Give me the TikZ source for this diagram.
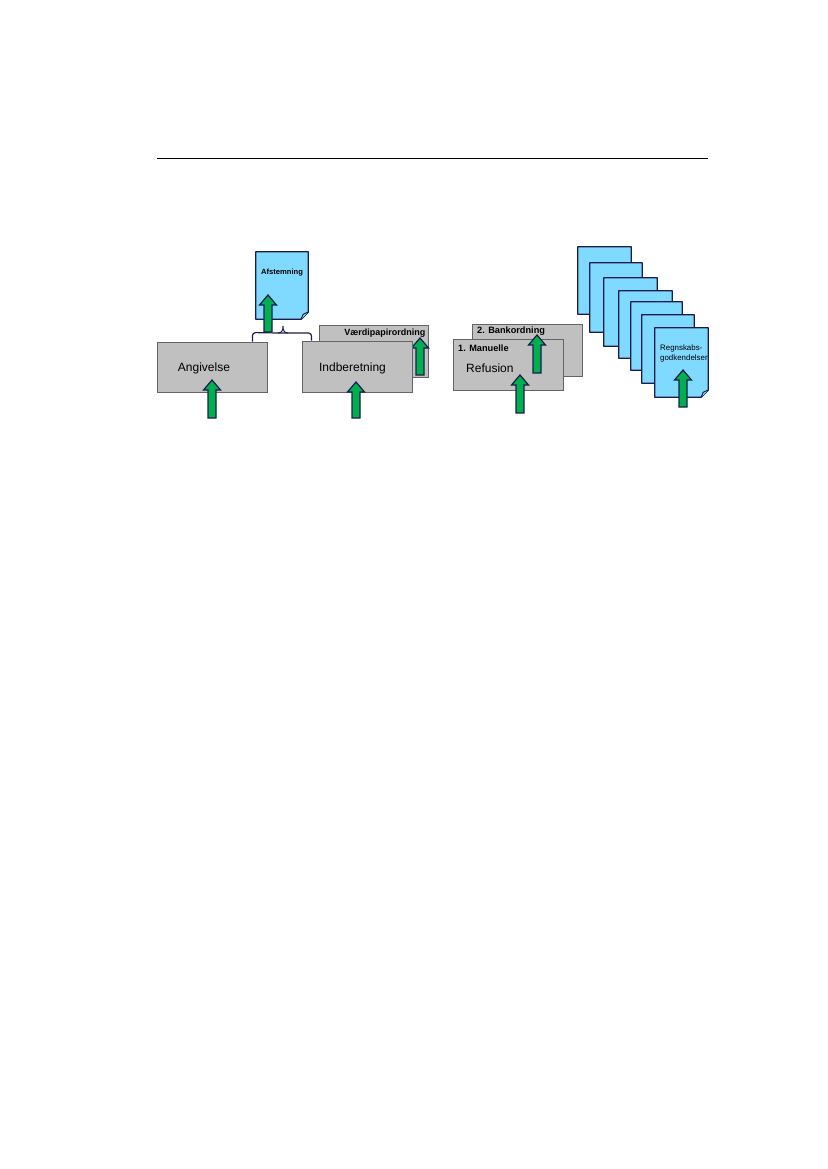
\documentclass[tikz,border=0pt]{standalone}
\usepackage{fontspec}
\setmainfont{Liberation Sans}
\definecolor{docblue}{RGB}{128,218,255}
\definecolor{boxgray}{RGB}{192,192,192}
\definecolor{boxedge}{RGB}{100,100,100}
\definecolor{arrgreen}{RGB}{0,176,80}
\definecolor{navy}{RGB}{28,28,76}
\tikzset{
  graybox/.style={rectangle, fill=boxgray, draw=boxedge, line width=0.9pt, inner sep=0pt},
  docnode/.style={rectangle, draw=none, inner sep=0pt},
  docfill/.style={fill=docblue, draw=navy, line width=1.3pt, line join=round},
  bigtxt/.style={inner sep=0pt, font=\fontsize{12}{14}\selectfont},
  boldtxt/.style={inner sep=0pt, font=\bfseries\fontsize{9.2}{11}\selectfont},
  bracket/.style={draw=navy, line width=1.2pt, rounded corners=3pt},
  pics/uparrow/.style={code={
    \draw[fill=arrgreen, draw=navy, line width=1.2pt, line join=miter]
      (0,0) -- (8.5,10) -- (4,10) -- (4,#1) -- (-4,#1) -- (-4,10) -- (-8.5,10) -- cycle;}}
}
\newcommand\mydoc[1]{%
  \draw[docfill] (#1.north west) -- (#1.north east) -- ([yshift=7pt]#1.south east)
    -- ([xshift=-7pt]#1.south east) -- (#1.south west) -- cycle;
  \draw[docfill, line width=1pt] ([xshift=-7pt]#1.south east) -- ([xshift=-5pt,yshift=5pt]#1.south east)
    -- ([yshift=7pt]#1.south east);}
\begin{document}
\begin{tikzpicture}[x=1pt,y=-1pt]
\useasboundingbox (0,0) rectangle (827,1169);
% top rule
\coordinate (rl) at (157,159);
\coordinate (rr) at (708,159);
\draw[line width=1pt] (rl) -- (rr);

% Afstemning document
\node[docnode, minimum width=52pt, minimum height=67pt] (afst) at (282,285.5) {};
\mydoc{afst}
\node[inner sep=0pt, font=\bfseries\fontsize{7.6}{9}\selectfont] (afsttxt) at (282,273) {Afstemning};
\pic at (268,295) {uparrow=37};

% Angivelse
\node[graybox, minimum width=110pt, minimum height=50pt] (ang) at (212,367) {};
\node[bigtxt] (angtxt) at (204,368) {Angivelse};
\pic at (212,380) {uparrow=38};

% Vaerdipapirordning (behind)
\node[graybox, minimum width=109pt, minimum height=52pt] (vaerd) at (373.5,351) {};
\node[boldtxt, font=\bfseries\fontsize{9}{10}\selectfont, anchor=east] (vaerdtxt) at (425.5,333) {Værdipapirordning};
\pic at (420,338) {uparrow=37};

% Indberetning
\node[graybox, minimum width=110pt, minimum height=51pt] (ind) at (357,366.5) {};
\node[bigtxt] (indtxt) at (352.5,368) {Indberetning};
\pic at (356,382) {uparrow=36};

% bracket connecting Angivelse and Indberetning to Afstemning
\coordinate (bl) at ([xshift=-15pt]ang.north east);
\coordinate (br) at ([xshift=10pt]ind.north west);
\draw[bracket] (bl) -- ++(0,-9) -- (279,333) -- (br |- 0,333) -- (br);
\draw[draw=navy, line width=1pt] (278,333) .. controls (282,333) and (283,330) .. (283,326)
  .. controls (283,330) and (284,333) .. (288,333);

% Bankordning (behind)
\node[graybox, minimum width=110pt, minimum height=52pt] (bank) at (527,350) {};
\node[boldtxt, anchor=west] (banktxt) at (477,331) {2. Bankordning};

% Manuelle refusion
\node[graybox, minimum width=110pt, minimum height=51pt] (man) at (508,364.5) {};
\node[boldtxt, anchor=west] (mantxt) at (458,348) {1. Manuelle};
\node[bigtxt, anchor=west] (reftxt) at (466,368) {Refusion};
\pic at (537,335) {uparrow=38};
\pic at (520,375) {uparrow=38};

% stack of documents
\node[docnode, minimum width=53pt, minimum height=67pt] (d1) at (604.5,280.5) {};
\mydoc{d1}
\node[docnode, minimum width=52pt, minimum height=69pt] (d2) at (616,297.5) {};
\mydoc{d2}
\node[docnode, minimum width=53pt, minimum height=68pt] (d3) at (630.5,312) {};
\mydoc{d3}
\node[docnode, minimum width=53pt, minimum height=67pt] (d4) at (645.5,324.5) {};
\mydoc{d4}
\node[docnode, minimum width=51pt, minimum height=68pt] (d5) at (656.5,336) {};
\mydoc{d5}
\node[docnode, minimum width=52pt, minimum height=68pt] (d6) at (668,349) {};
\mydoc{d6}
\node[docnode, minimum width=53pt, minimum height=69pt] (d7) at (681.5,362.5) {};
\mydoc{d7}
\node[inner sep=0pt, anchor=north west, align=left, font=\fontsize{7.9}{10}\selectfont] (regtxt) at (660,345) {Regnskabs-\\godkendelser};
\pic at (683,370) {uparrow=37};
\end{tikzpicture}
\end{document}
